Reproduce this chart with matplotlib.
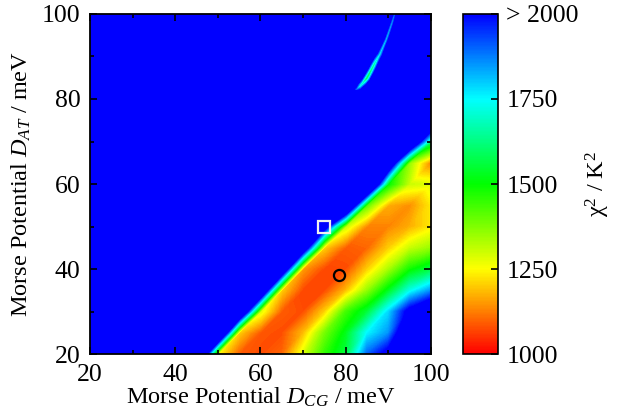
import matplotlib
matplotlib.use('Agg')
import matplotlib.pyplot as plt
import matplotlib.tri as mtri
import numpy as np
from matplotlib.colors import LinearSegmentedColormap, Normalize
from matplotlib.ticker import MultipleLocator

plt.rcParams['font.family'] = ['Liberation Serif', 'DejaVu Serif']
plt.rcParams['mathtext.fontset'] = 'custom'
plt.rcParams['mathtext.rm'] = 'Liberation Serif'
plt.rcParams['mathtext.it'] = 'Liberation Serif:italic'
plt.rcParams['font.size'] = 17.5

# chi^2 grid, D_CG = 20..100 (columns), D_AT = 100..20 (rows, top first)
d_cg = np.arange(20, 101, 5)
d_at = np.arange(100, 19, -5)
H = 2800  # saturated (> 2000)
chi2 = [
    [H] * 17,                                                                  # 100
    [H] * 17,                                                                  # 95
    [H] * 17,                                                                  # 90
    [H] * 17,                                                                  # 85
    [H] * 17,                                                                  # 80
    [H] * 16 + [2400],                                                         # 75
    [H] * 15 + [2400, 1600],                                                   # 70
    [H] * 14 + [2300, 1350, 1130],                                             # 65
    [H] * 13 + [2600, 1500, 1300, 1280],                                       # 60
    [H] * 12 + [2500, 1400, 1170, 1140, 1230],                                 # 55
    [H] * 11 + [2130, 1300, 1130, 1130, 1170, 1230],                           # 50
    [H] * 10 + [2230, 1200, 1090, 1100, 1200, 1300, 1350],                     # 45
    [H] * 9 + [2300, 1150, 1070, 1075, 1200, 1330, 1480, 1560],                # 40
    [H] * 8 + [2380, 1200, 1070, 1070, 1180, 1350, 1520, 1720, 1850],          # 35
    [H] * 7 + [2440, 1280, 1090, 1075, 1200, 1430, 1550, 1780, 2050, 2200],    # 30
    [H] * 6 + [2580, 1200, 1085, 1075, 1180, 1380, 1520, 1750, 1850, 2200, 2400],  # 25
    [H] * 5 + [2700, 1250, 1090, 1075, 1100, 1280, 1450, 1560, 1900, 2050, 2300, 2400],  # 20
]

# thin low-chi^2 streak in the upper right (centre line, then both flanks, then tip)
streak_x = [82.4, 83.5, 85.0, 86.5, 88.0, 89.5, 90.7, 91.6,
            81.2, 82.3, 83.8, 85.2, 86.7, 88.4, 89.6, 90.5,
            83.6, 84.7, 86.2, 87.8, 89.3, 90.6, 91.8, 92.7, 81.5]
streak_y = [82.2, 83.2, 85.0, 87.8, 90.5, 94.0, 97.5, 100.5,
            83.1, 84.1, 85.9, 88.5, 91.1, 94.5, 97.9, 101.0,
            81.3, 82.3, 84.1, 87.1, 89.9, 93.5, 97.0, 100.0, 81.2]
streak_v = [1850, 1650, 1480, 1550, 1700, 1750, 1780, 1850] + [2300] * 17

best_fit = (78.5, 38.5)
start_point = (75, 50)

cbar_ticks = [1000, 1250, 1500, 1750, 2000]
cbar_labels = ['1000', '1250', '1500', '1750', '> 2000']

cmap = LinearSegmentedColormap.from_list('chi', ['red', 'yellow', 'lime', 'cyan', 'blue'])
cmap.set_over('blue')
cmap.set_under('red')
norm = Normalize(1000, 2000)
levels = np.linspace(1000, 2000, 201)

fig = plt.figure(figsize=(6.18, 4.19), dpi=100)
ax = fig.add_axes([0.1456, 0.1551, 0.5518, 0.8115])
cax = fig.add_axes([0.749, 0.1551, 0.0566, 0.8115])

# grid triangulated along the lower-left -> upper-right diagonal of each cell
X, Y = np.meshgrid(d_cg, d_at[::-1])
Z = np.flipud(np.array(chi2, dtype=float))
nx, ny = len(d_cg), len(d_at)
tris = []
for j in range(ny - 1):
    for i in range(nx - 1):
        k = j * nx + i
        tris.append([k, k + 1, k + nx + 1])
        tris.append([k, k + nx + 1, k + nx])
tri = mtri.Triangulation(X.ravel(), Y.ravel(), tris)
ax.tricontourf(tri, Z.ravel(), levels=levels, cmap=cmap, norm=norm, extend='both')
ax.tricontourf(streak_x, streak_y, streak_v, levels=levels, cmap=cmap, norm=norm)

ax.plot(*start_point, 's', mfc='none', mec='#f0f0f0', ms=8, mew=1.6)
ax.plot(*best_fit, 'o', mfc='none', mec='black', ms=8, mew=1.6)

ax.set_xlim(20, 100)
ax.set_ylim(20, 100)
ax.set_xticks(range(20, 101, 20))
ax.set_yticks(range(20, 101, 20))
ax.xaxis.set_minor_locator(MultipleLocator(10))
ax.yaxis.set_minor_locator(MultipleLocator(10))
ax.tick_params(which='both', direction='in', top=True, right=True, width=1.2, labelsize=18.5)
ax.tick_params(which='major', length=5, pad=7)
ax.tick_params(which='minor', length=3)
for s in ax.spines.values():
    s.set_linewidth(1.3)

ax.set_xlabel('Morse Potential $D_{CG}$ / meV', labelpad=0)
ax.set_ylabel('Morse Potential $D_{AT}$ / meV', labelpad=6)

sm = plt.cm.ScalarMappable(norm=norm, cmap=cmap)
cb = fig.colorbar(sm, cax=cax)
cb.set_ticks(cbar_ticks)
cb.set_ticklabels(cbar_labels)
cb.ax.tick_params(direction='in', length=5, width=1.2, pad=6, labelsize=18.5)
cb.outline.set_linewidth(1.2)
cb.set_label('χ$^2$ / K$^2$', labelpad=4)

fig.savefig('out.png', dpi=100)
